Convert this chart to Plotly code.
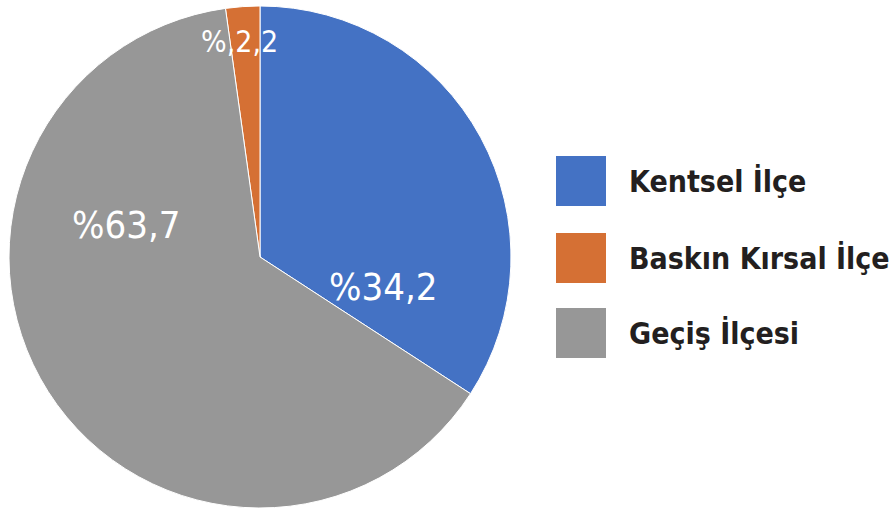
import plotly.graph_objects as go

# District types and their population shares (%)
categories = ["Kentsel İlçe", "Baskın Kırsal İlçe", "Geçiş İlçesi"]
shares = [34.2, 2.2, 63.7]
share_labels = ["%34,2", "%,2,2", "%63,7"]
colors = ["#4472C4", "#D57034", "#979797"]

W, H = 891, 508
label_font = "DejaVu Sans Condensed, Arial Narrow, sans-serif"

fig = go.Figure(
    go.Pie(
        labels=categories,
        values=shares,
        text=share_labels,
        textinfo="none",
        marker=dict(colors=colors, line=dict(color="white", width=1)),
        sort=False,
        direction="counterclockwise",
        rotation=0,
        showlegend=False,
        hoverinfo="label+text",
        domain=dict(x=[9 / W, 511 / W], y=[0, 502 / H]),
    )
)

shapes, annotations = [], []

# Share labels placed over their slices (pixel centres, font sizes),
# in the same order as the categories
label_pos = [(383, 287), (239, 42), (126, 225)]
label_sizes = [38, 30, 38]
for txt, (px, py), fs in zip(share_labels, label_pos, label_sizes):
    annotations.append(dict(
        xref="paper", yref="paper", x=px / W, y=1 - py / H,
        xanchor="center", yanchor="middle", showarrow=False,
        text=txt, font=dict(family=label_font, size=fs, color="white"),
    ))

# Legend drawn as large swatches with labels on the right
sw_left, sw_size, text_left = 556, 50, 627
sw_tops = [156, 233, 308]
for name, col, top in zip(categories, colors, sw_tops):
    shapes.append(dict(
        type="rect", xref="paper", yref="paper",
        x0=sw_left / W, x1=(sw_left + sw_size) / W,
        y0=1 - (top + sw_size) / H, y1=1 - top / H,
        fillcolor=col, line=dict(width=0),
    ))
    annotations.append(dict(
        xref="paper", yref="paper",
        x=text_left / W, y=1 - (top + sw_size / 2) / H,
        xanchor="left", yanchor="middle", showarrow=False,
        text=f"<b>{name}</b>",
        font=dict(family=label_font, size=30, color="#231F20"),
    ))

fig.update_layout(
    width=W, height=H,
    margin=dict(l=0, r=0, t=0, b=0),
    paper_bgcolor="white", plot_bgcolor="white",
    shapes=shapes, annotations=annotations,
)

fig.write_html("out.html")
